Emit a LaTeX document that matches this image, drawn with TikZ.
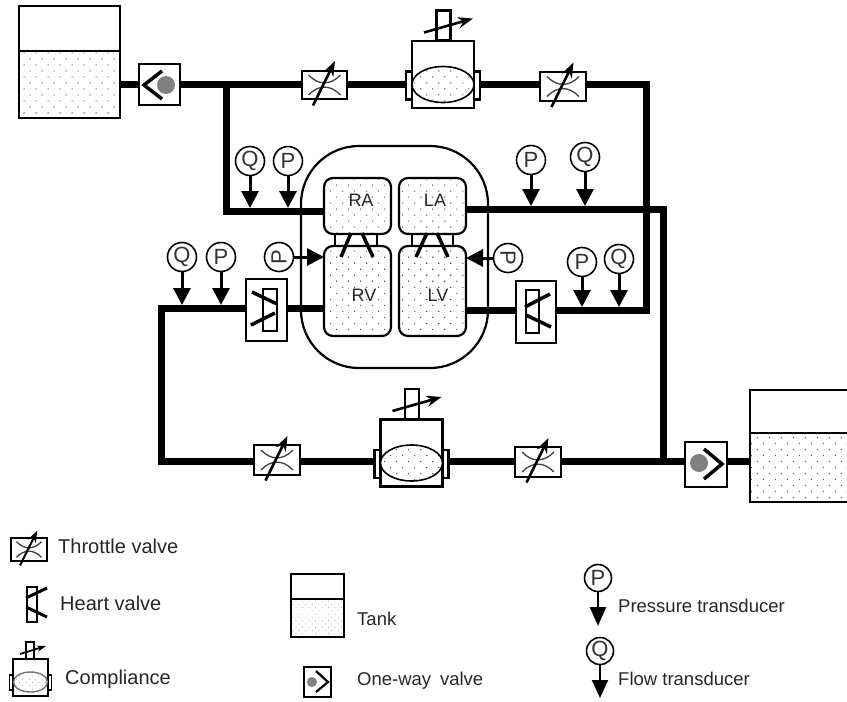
\documentclass[tikz,border=0pt]{standalone}
\usepackage{fontspec}
\setmainfont{Liberation Sans}
\usepackage{tikz}
\usetikzlibrary{arrows.meta,calc,patterns.meta,shapes.geometric,backgrounds}
\tikzset{
  wire/.style    = {line width=7pt},
  shell/.style   = {draw, line width=2.2pt, inner sep=0pt, outer sep=0pt},
  box/.style     = {shell, fill=white},
  fluid/.style   = {shell, preaction={fill=white}, pattern color=black!70,
                    pattern={Dots[distance=8.5pt,radius=0.75pt,angle=45]}},
  fluidfine/.style = {fluid, line width=1.4pt, pattern color=black!45,
                    pattern={Dots[distance=4.6pt,radius=0.45pt,angle=45]}},
  chamber/.style = {fluid, rounded corners=9pt, minimum width=67pt},
  ball/.style    = {circle, fill=black!50, minimum size=18pt, inner sep=0pt},
  chevron/.style = {line width=3.5pt},
  leaflet/.style = {line width=3.5pt},
  sensor/.style  = {circle, draw, fill=white, line width=1.6pt, minimum size=29pt,
                    inner sep=0pt, outer sep=0pt, font=\fontsize{22}{22}\selectfont, text=black!80},
  probe/.style   = {-{Triangle[length=17pt,width=17pt]}, line width=3pt},
  adjust/.style  = {-{Stealth[length=15pt,width=11pt]}, line width=2.6pt},
  tag/.style     = {anchor=base west, inner sep=0pt, text=black!85, font=\fontsize{18.5}{21}\selectfont},
  tagleft/.style = {tag, font=\fontsize{20}{22}\selectfont},
  cham/.style    = {inner sep=0pt, text=black!85, font=\fontsize{18}{20}\selectfont},
}
\newcommand{\throttlemarks}[2]{%
  \begin{scope}[shift={(#1)},scale=#2]
    \draw[line width=1.3pt,black!75] (-16,-10) .. controls (-6,0.5) and (6,0.5) .. (16,-10);
    \draw[line width=1.3pt,black!75] (-16,10) .. controls (-6,-0.5) and (6,-0.5) .. (16,10);
    \draw[line width=#2*2.6pt,-{Stealth[length=15pt,width=11pt,scale=#2]}] (-11.5,20.5) -- (10.5,-24);
  \end{scope}}
\begin{document}
\begin{tikzpicture}[x=1pt,y=-1pt]
  \clip (0,0) rectangle (847,702);

  % tanks
  \node[box,minimum width=101pt,minimum height=45pt] (airTL) at (69.5,28.5) {};
  \node[fluid,minimum width=101pt,minimum height=67pt] (fluidTL) at (69.5,84.5) {};
  \node[box,minimum width=110pt,minimum height=43pt] (airBR) at (805,411.5) {};
  \node[fluid,minimum width=110pt,minimum height=69pt] (fluidBR) at (805,467.5) {};

  % one-way valves
  \node[box,minimum size=41pt] (owTL) at (159.5,84.5) {};
  \node[ball] (ballTL) at (166,85) {};
  \draw[chevron] (162,71) -- (144,85) -- (162,99);
  \node[box,minimum width=42pt,minimum height=45pt] (owBR) at (706,464.5) {};
  \node[ball] (ballBR) at (699,463) {};
  \draw[chevron] (704,449) -- (722,464) -- (704,479);

  % throttle valves
  \node[box,minimum width=45pt,minimum height=28pt] (tvTL) at (324.5,85) {};
  \node[box,minimum width=46pt,minimum height=29pt] (tvTR) at (563,86.5) {};
  \node[box,minimum width=46pt,minimum height=30pt] (tvBL) at (277,460) {};
  \node[box,minimum width=46pt,minimum height=30pt] (tvBR) at (538,462) {};
  \foreach \n in {tvTL,tvTR,tvBL,tvBR} \throttlemarks{\n}{1};

  % compliances
  \foreach \n/\x/\y in {TL/443/84.5,BL/411.5/463}{
    \node[box,minimum width=14pt,minimum height=30pt] (stem\n) at (\x+0.5,\y-59) {};
    \node[box,minimum width=62pt,minimum height=67pt] (cb\n) at (\x,\y-10) {};
    \node[box,minimum width=6pt,minimum height=28pt] (capL\n) at (\x-34,\y+1) {};
    \node[box,minimum width=6pt,minimum height=28pt] (capR\n) at (\x+34,\y+1) {};
    \node[fluid,ellipse,line width=1.6pt,minimum width=62pt,minimum height=36pt] (el\n) at (\x,\y) {};
    \draw[adjust] (\x-19,\y-52) -- (\x+30,\y-66);
  }

  % heart
  \node[shell,rounded corners=58pt,minimum width=187pt,minimum height=222pt] (sac) at (394.5,257) {};
  \node[chamber,minimum height=56pt] (ra) at (357.5,206) {};
  \node[chamber,minimum height=56pt] (la) at (432.5,206) {};
  \node[chamber,minimum height=90pt] (rv) at (357.5,291) {};
  \node[chamber,minimum height=90pt] (lv) at (432.5,291) {};
  \node[cham] (tagra) at (361,200) {RA};
  \node[cham] (tagla) at (435,200) {LA};
  \node[cham] (tagrv) at (364,295) {RV};
  \node[cham] (taglv) at (438,295) {LV};
  \foreach \x in {335,377,412,453} \draw[line width=2pt] (\x,234) -- (\x,246);
  \draw[leaflet] (351,233) -- (341,257);
  \draw[leaflet] (362,233) -- (373,257);
  \draw[leaflet] (427,233) -- (416,257);
  \draw[leaflet] (437,233) -- (448,257);

  % heart valves in the loop
  \node[box,minimum width=41pt,minimum height=62pt] (hvL) at (266.5,310) {};
  \node[box,minimum width=14pt,minimum height=42pt] (hvinL) at (270,310) {};
  \draw[leaflet] (252,292) -- (277,304);
  \draw[leaflet] (251,325) -- (275,313);
  \node[box,minimum width=40pt,minimum height=62pt] (hvR) at (536,312) {};
  \node[box,minimum width=13pt,minimum height=43pt] (hvinR) at (532.5,311.5) {};
  \draw[leaflet] (525,307) -- (550,294);
  \draw[leaflet] (526,315) -- (551,327);

  % joints of the lines
  \coordinate (jtl) at (226,84.5);
  \coordinate (jra) at (226,211);
  \coordinate (jtr) at (646,84.5);
  \coordinate (jlv) at (646,310);
  \coordinate (jla) at (663,209);
  \coordinate (jbr) at (663,461);
  \coordinate (jrv) at (161,308);
  \coordinate (jbl) at (161,461);

  \begin{scope}[on background layer]
    \draw[wire] (fluidTL) -- (owTL);
    \draw[wire] (owTL) -- (jtr) -- (jlv) -- (lv.east |- jlv);
    \draw[wire] (jtl) -- (jra) -- (ra.west |- jra);
    \draw[wire] (la.east |- jla) -- (jla) -- (jbr);
    \draw[wire] (rv.west |- jrv) -- (jrv) -- (jbl) -- (owBR |- jbl);
    \draw[wire] (owBR |- jbl) -- (fluidBR.west |- jbl);
  \end{scope}

  % transducers
  \node[sensor] (qra) at (250,161) {Q};
  \node[sensor] (pra) at (288,161) {P};
  \node[sensor] (pla) at (531,160) {P};
  \node[sensor] (qla) at (585,157) {Q};
  \node[sensor] (qrv) at (182,257) {Q};
  \node[sensor] (prv) at (221,257) {P};
  \node[sensor] (plv) at (582,262) {P};
  \node[sensor] (qlv) at (619,259) {Q};
  \node[sensor] (pin) at (279,257) {\rotatebox{90}{P}};
  \node[sensor] (pil) at (508,258) {\rotatebox{-90}{P}};
  \draw[probe,shorten >=3pt] (qra) -- (qra |- jra);
  \draw[probe,shorten >=3pt] (pra) -- (pra |- jra);
  \draw[probe,shorten >=3pt] (pla) -- (pla |- jla);
  \draw[probe,shorten >=3pt] (qla) -- (qla |- jla);
  \draw[probe,shorten >=3pt] (qrv) -- (qrv |- jrv);
  \draw[probe,shorten >=3pt] (prv) -- (prv |- jrv);
  \draw[probe,shorten >=3pt] (plv) -- (plv |- jlv);
  \draw[probe,shorten >=3pt] (qlv) -- (qlv |- jlv);
  \draw[probe] (pin) -- (rv.west |- pin);
  \draw[probe] (pil) -- (lv.east |- pil);

  % legend
  \node[box,line width=1.8pt,minimum width=36pt,minimum height=23pt] (lgtv) at (29,549.5) {};
  \throttlemarks{lgtv}{0.78};
  \node[tagleft] (txttv) at (58,553) {Throttle valve};

  \node[box,line width=1.8pt,minimum width=10pt,minimum height=35pt] (lghv) at (32,604.5) {};
  \draw[line width=3pt] (26,598) -- (47,588);
  \draw[line width=3pt] (26,607) -- (47,617);
  \node[tagleft] (txthv) at (60,610.5) {Heart valve};

  \node[box,line width=1.5pt,minimum width=8pt,minimum height=17pt] (lgstem) at (30,650.5) {};
  \node[box,line width=1.5pt,minimum width=35pt,minimum height=37pt] (lgcb) at (30.5,677.5) {};
  \node[box,line width=1.2pt,minimum width=3.5pt,minimum height=15pt] (lgcapL) at (11,682.5) {};
  \node[box,line width=1.2pt,minimum width=3.5pt,minimum height=15pt] (lgcapR) at (50,682.5) {};
  \node[fluidfine,ellipse,draw=black!55,minimum width=34pt,minimum height=20pt] (lgel) at (30.5,682) {};
  \draw[line width=1.8pt,-{Stealth[length=9pt,width=6pt]}] (20,654) -- (46,646);
  \node[tagleft] (txtc) at (65,684) {Compliance};

  \node[box,line width=1.4pt,minimum width=53pt,minimum height=25pt] (lgair) at (317.5,586.5) {};
  \node[fluidfine,minimum width=53pt,minimum height=38pt] (lgfluid) at (317.5,618) {};
  \node[tag] (txttank) at (357,625) {Tank};

  \node[box,line width=1.6pt,minimum width=27pt,minimum height=30pt] (lgow) at (317.5,682) {};
  \node[ball,minimum size=10pt] (lgball) at (312,682) {};
  \draw[line width=2.2pt] (316,671) -- (328,682) -- (316,692);
  \node[tag] (txtow) at (357,685) {One-way\hspace{0.2em} valve};

  \node[sensor,minimum size=27pt] (lgp) at (598,578) {P};
  \coordinate (lgptip) at (598,626);
  \draw[line width=2.4pt,-{Triangle[length=19pt,width=16pt]}] (lgp) -- (lgptip);
  \node[tag] (txtp) at (618,612) {Pressure transducer};

  \node[sensor,minimum size=27pt] (lgq) at (600,651) {Q};
  \coordinate (lgqtip) at (600,698);
  \draw[line width=2.4pt,-{Triangle[length=18pt,width=16pt]}] (lgq) -- (lgqtip);
  \node[tag] (txtf) at (618,685) {Flow transducer};
\end{tikzpicture}
\end{document}
